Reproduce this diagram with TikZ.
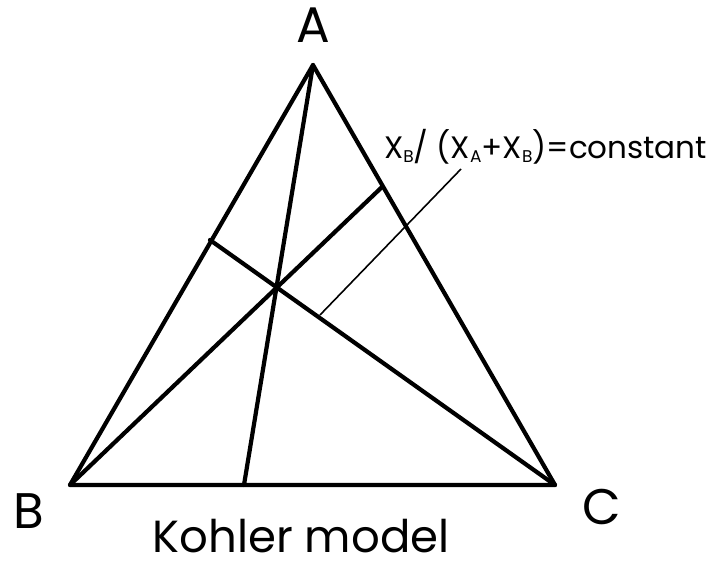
\documentclass[tikz,border=0pt]{standalone}
\usepackage{fontspec}
\setmainfont{Poppins}
\newcommand{\lowsub}[1]{\raisebox{-4pt}{\fontsize{17}{17}\selectfont #1}}
\begin{document}
\begin{tikzpicture}[x=1pt,y=-1pt,
  thickline/.style={line width=4.2pt,line cap=round,line join=round},
  thinline/.style={line width=1.6pt},
  biglabel/.style={font=\fontsize{50}{50}\selectfont,inner sep=0pt},
  titlelabel/.style={font=\fontsize{45}{45}\selectfont,inner sep=0pt},
  midlabel/.style={font=\fontsize{31}{31}\selectfont,inner sep=0pt}]
\useasboundingbox (0,0) rectangle (721,568);
\coordinate (A) at (313,65);
\coordinate (B) at (70,485);
\coordinate (C) at (555,485);
\coordinate (Da) at (244,485);
\coordinate (Db) at (382,187);
\coordinate (Dc) at (210,240);
\coordinate (L1) at (320,315);
\coordinate (L2) at (461,169);
\draw[thickline] (A) -- (B) -- (C) -- cycle;
\draw[thickline] (A) -- (Da);
\draw[thickline] (B) -- (Db);
\draw[thickline] (C) -- (Dc);
\draw[thinline] (L1) -- (L2);
\node[biglabel,anchor=base] (la) at (313,42) {A};
\node[biglabel,anchor=base] (lb) at (29,528) {B};
\node[biglabel,anchor=base] (lc) at (602,524) {C};
\node[titlelabel,anchor=base] (title) at (301,552) {Kohler model};
\node[midlabel,anchor=base west] (eq) at (384,158) {X\lowsub{B}/ (X\lowsub{A}+X\lowsub{B})=constant};
\end{tikzpicture}
\end{document}
